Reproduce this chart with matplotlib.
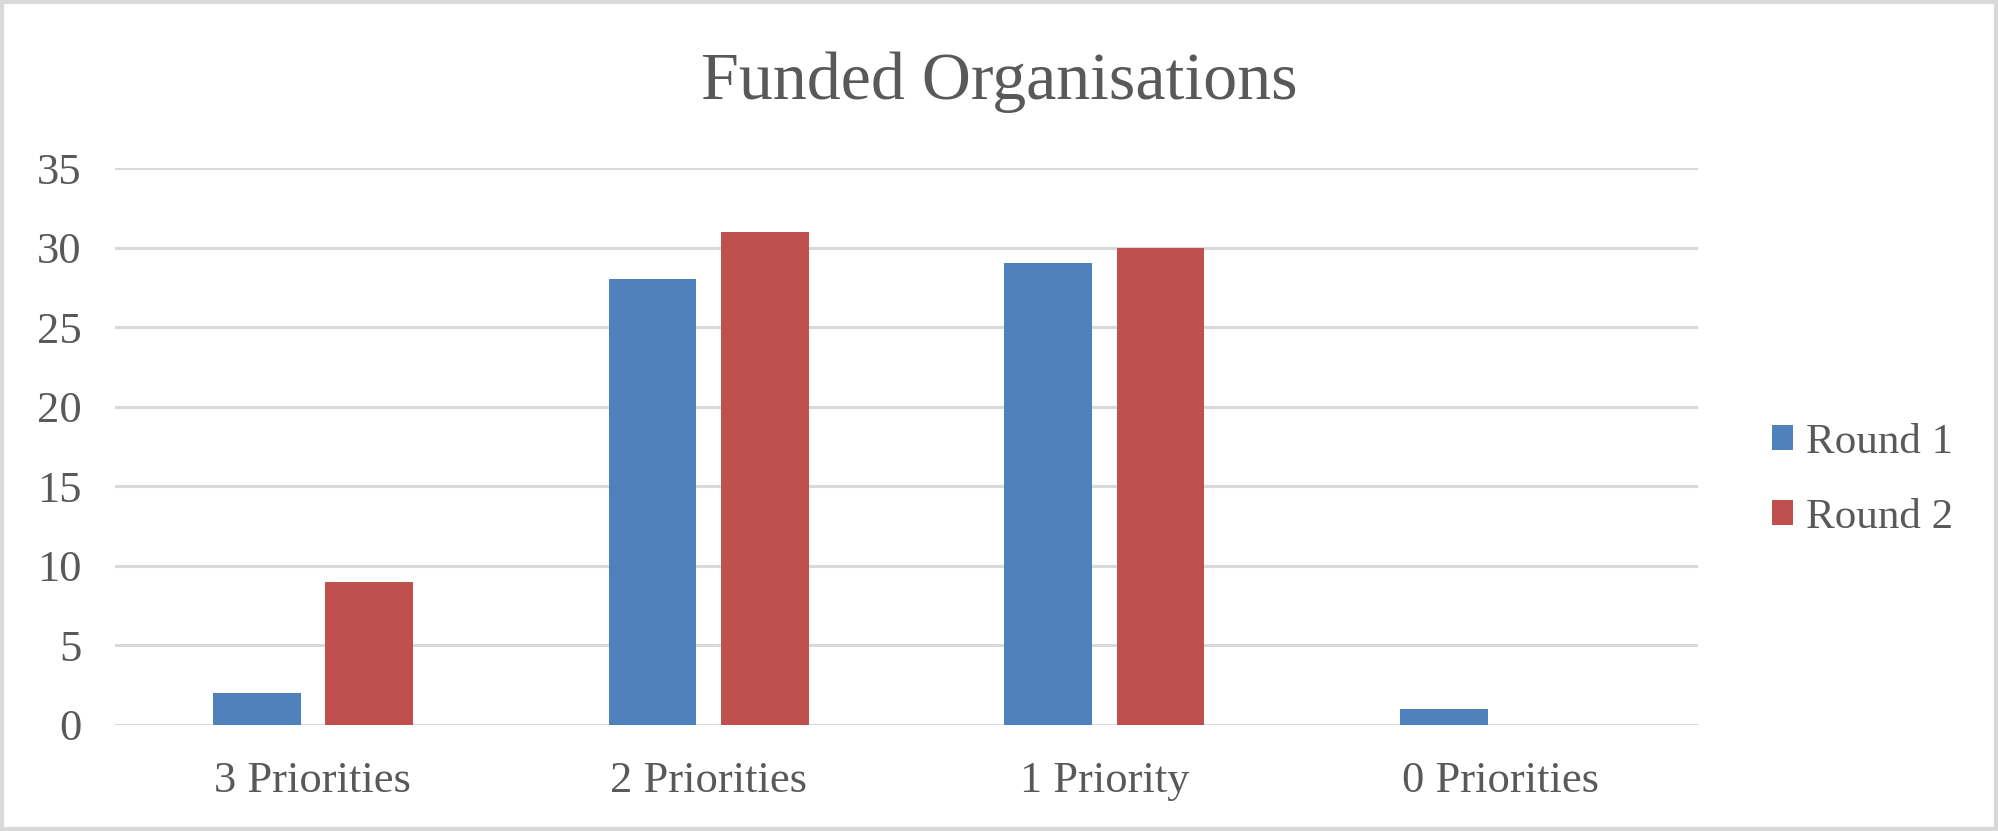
import matplotlib.pyplot as plt
import numpy as np
from matplotlib.patches import Rectangle

# Data
categories = ['3 Priorities', '2 Priorities', '1 Priority', '0 Priorities']
round1 = [2, 28, 29, 1]
round2 = [9, 31, 30, 0]
series_names = ['Round 1', 'Round 2']

blue = '#4F81BD'
red = '#C0504D'
text_col = '#595959'
grid_col = '#D9D9D9'

plt.rcParams['font.family'] = ['Liberation Serif', 'DejaVu Serif']

fig = plt.figure(figsize=(19.98, 8.31), dpi=100)
ax = fig.add_axes([115 / 1998, 1 - 725 / 831, (1698 - 115) / 1998, (725 - 168) / 831])

x = np.arange(len(categories))
w = 0.222
off = 0.142
ax.bar(x - off, round1, w, color=blue, label=series_names[0], zorder=3)
ax.bar(x + off, round2, w, color=red, label=series_names[1], zorder=3)

ax.set_xlim(-0.5, len(categories) - 0.5)
ax.set_ylim(0, 35)
ax.set_yticks(range(0, 36, 5))
ax.set_xticks(x)
ax.set_xticklabels(categories)
ax.grid(axis='y', color=grid_col, linewidth=2.2, zorder=0)
for s in ax.spines.values():
    s.set_visible(False)
ax.tick_params(length=0, labelsize=32, colors=text_col)
ax.tick_params(axis='y', pad=24)
ax.tick_params(axis='x', pad=26)

fig.suptitle('Funded Organisations', fontsize=49, color=text_col, y=1 - 82 / 831, va='center')

ax.legend(loc='center left', bbox_to_anchor=(1.022, 0.44), frameon=False,
          fontsize=31, labelcolor=text_col, handlelength=0.5, handleheight=0.5,
          handletextpad=0.3, labelspacing=0.85)

# light border around the chart
fig.patches.append(Rectangle((0.001, 0.002), 0.998, 0.996, transform=fig.transFigure,
                             fill=False, edgecolor=grid_col, linewidth=3))

fig.savefig('out.png', dpi=100)
